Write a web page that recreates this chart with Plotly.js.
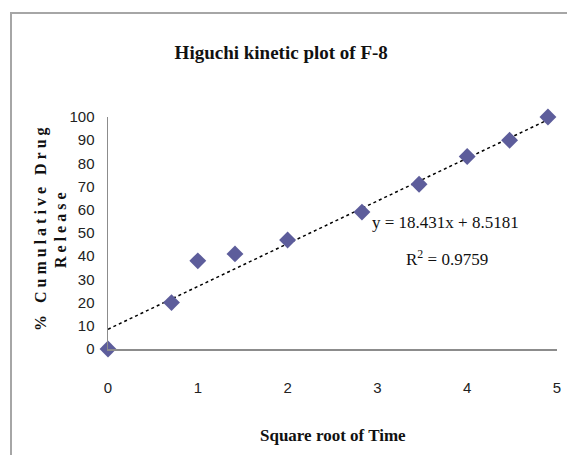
<!DOCTYPE html>
<html>
<head>
<meta charset="utf-8">
<script src="https://cdn.plot.ly/plotly-3.0.1.min.js"></script>
<style>
html,body{margin:0;padding:0;background:#fff;}
#chart{width:567px;height:455px;}
g.annotation[data-index="2"] text, g.annotation[data-index="3"] text{letter-spacing:4px;}
</style>
</head>
<body>
<div id="chart"></div>
<script>
// Data
var sqrtTime = [0, 0.707, 1, 1.414, 2, 2.828, 3.464, 4, 4.472, 4.899];
var cumRelease = [0, 20, 38, 41, 47, 59, 71, 83, 90, 100];
var trendSlope = [18.431];
var trendIntercept = [8.5181];
var rSquared = ['0.9759'];
var xTicks = [0, 1, 2, 3, 4, 5];
var yTicks = [0, 10, 20, 30, 40, 50, 60, 70, 80, 90, 100];
var yTitleLines = ['% Cumulative Drug', 'Release'];

var trendX = [sqrtTime[0], sqrtTime[sqrtTime.length - 1]];
var trendY = trendX.map(function (x) { return trendSlope[0] * x + trendIntercept[0]; });

var serif = 'Liberation Serif, DejaVu Serif, serif';
var tickFont = {family: 'Liberation Sans, Arial, sans-serif', size: 15, color: '#222'};

var data = [
  {
    x: trendX, y: trendY, type: 'scatter', mode: 'lines',
    line: {color: '#000', width: 1.5, dash: 'dot'},
    hoverinfo: 'skip', showlegend: false, cliponaxis: false
  },
  {
    x: sqrtTime, y: cumRelease, type: 'scatter', mode: 'markers',
    marker: {symbol: 'diamond', size: 13, color: '#5d5d9b'},
    showlegend: false, cliponaxis: false
  }
];

var layout = {
  width: 567, height: 455,
  margin: {l: 108, r: 10, t: 117, b: 106},
  paper_bgcolor: '#fff', plot_bgcolor: '#fff',
  title: {
    text: '<b>Higuchi kinetic plot of F-8</b>',
    font: {family: serif, size: 19, color: '#111'},
    x: 0.496, xref: 'container', xanchor: 'center',
    y: 1 - 52 / 455, yref: 'container', yanchor: 'middle'
  },
  xaxis: {
    range: [0, 5], tickvals: xTicks, ticktext: xTicks.map(String),
    showgrid: false, zeroline: false, showline: true, linecolor: '#8c8c8c', linewidth: 1.5,
    ticks: '', ticklabelstandoff: 24, tickfont: tickFont, fixedrange: true
  },
  yaxis: {
    range: [0, 100], tickvals: yTicks, ticktext: yTicks.map(String),
    showgrid: false, zeroline: false, showline: true, linecolor: '#8c8c8c', linewidth: 1.5,
    ticks: '', ticklabelstandoff: 9, tickfont: tickFont, fixedrange: true
  },
  annotations: [
    {
      x: 3.76, y: 54.7, xref: 'x', yref: 'y', showarrow: false,
      xanchor: 'center', yanchor: 'middle',
      text: 'y = ' + trendSlope[0] + 'x + ' + trendIntercept[0],
      font: {family: serif, size: 17, color: '#111'}
    },
    {
      x: 3.77, y: 39.2, xref: 'x', yref: 'y', showarrow: false,
      xanchor: 'center', yanchor: 'middle',
      text: 'R<sup>2</sup> = ' + rSquared[0],
      font: {family: serif, size: 17, color: '#111'}
    },
    {
      x: (41 - 108) / 449, y: (349 - 227) / 232, xref: 'paper', yref: 'paper', showarrow: false,
      xanchor: 'center', yanchor: 'middle', textangle: -90,
      text: '<b>' + yTitleLines[0] + '</b>',
      font: {family: serif, size: 16, color: '#111'}
    },
    {
      x: (60 - 108) / 449, y: (349 - 228) / 232, xref: 'paper', yref: 'paper', showarrow: false,
      xanchor: 'center', yanchor: 'middle', textangle: -90,
      text: '<b>' + yTitleLines[1] + '</b>',
      font: {family: serif, size: 16, color: '#111'}
    },
    {
      x: (333 - 108) / 449, y: (349 - 435) / 232, xref: 'paper', yref: 'paper', showarrow: false,
      xanchor: 'center', yanchor: 'middle',
      text: '<b>Square root of Time</b>',
      font: {family: serif, size: 17, color: '#111'}
    }
  ],
  shapes: [
    {
      type: 'rect', xref: 'paper', yref: 'paper',
      x0: (11 - 108) / 449, x1: 1.2, y0: -0.6, y1: (349 - 13) / 232,
      line: {color: '#a6a6a6', width: 2}, fillcolor: 'rgba(0,0,0,0)', layer: 'below'
    }
  ]
};

Plotly.newPlot('chart', data, layout, {staticPlot: true, displayModeBar: false});
</script>
</body>
</html>
